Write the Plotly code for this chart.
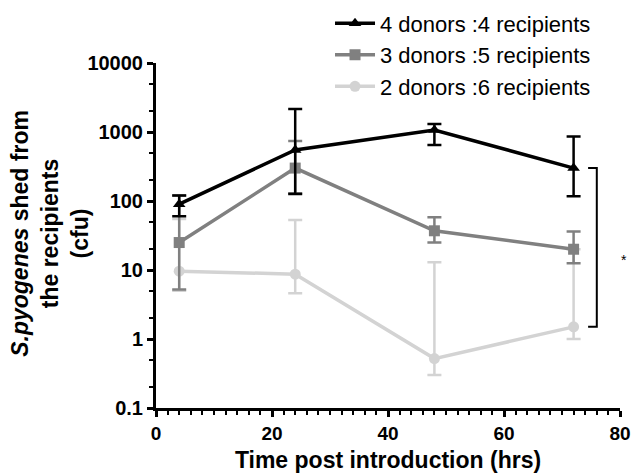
import plotly.graph_objects as go

hours = [4, 24, 48, 72]

names = ["4 donors :4 recipients", "3 donors :5 recipients", "2 donors :6 recipients"]
colors = ["#000000", "#808080", "#d3d3d3"]
symbols = ["triangle-up", "square", "circle"]

mean_4d4r = [90, 550, 1070, 300]
upper_4d4r = [120, 2150, 1310, 860]
lower_4d4r = [60, 126, 650, 117]

mean_3d5r = [25, 300, 37, 20]
upper_3d5r = [120, 740, 58, 36]
lower_3d5r = [5.2, 130, 25, 12.5]

mean_2d6r = [9.6, 8.7, 0.52, 1.5]
upper_2d6r = [55, 53, 13, 20]
lower_2d6r = [5, 4.6, 0.3, 1.0]

bracket_x = [74.5, 76, 76, 74.5]
bracket_y = [300, 300, 1.5, 1.5]

series = [
    (mean_4d4r, upper_4d4r, lower_4d4r),
    (mean_3d5r, upper_3d5r, lower_3d5r),
    (mean_2d6r, upper_2d6r, lower_2d6r),
]

fig = go.Figure()

# draw light series first so darker ones are on top
for i in [2, 1, 0]:
    m, up, lo = series[i]
    fig.add_trace(go.Scatter(
        x=hours, y=m, name=names[i], mode="lines+markers",
        legendgroup=f"g{i}", legendrank=i + 1,
        line=dict(color=colors[i], width=3.5),
        marker=dict(symbol=symbols[i], size=11, color=colors[i]),
        error_y=dict(type="data", symmetric=False,
                     array=[u - v for u, v in zip(up, m)],
                     arrayminus=[v - l for v, l in zip(m, lo)],
                     color=colors[i], thickness=2.5, width=7),
    ))

fig.add_trace(go.Scatter(
    x=bracket_x, y=bracket_y, mode="lines", showlegend=False,
    line=dict(color="black", width=2), hoverinfo="skip", cliponaxis=False,
))

fig.add_annotation(text="*", xref="paper", yref="paper", x=1.0086, y=0.43,
                   xanchor="center", borderpad=0,
                   showarrow=False, font=dict(size=14, color="black", family="Arial"))

tick_font_y = dict(family="Arial", size=20, color="black", weight="bold")
tick_font_x = dict(family="Arial", size=19, color="black", weight="bold")
title_font = dict(family="Arial", size=23, color="black", weight="bold")

fig.add_annotation(text="<i>S.pyogenes</i> shed from<br>the recipients<br>(cfu)",
                   xref="paper", yref="paper", x=-0.2284, y=0.505,
                   xanchor="center", yanchor="middle", textangle=-90,
                   showarrow=False, font=title_font)

fig.update_layout(
    width=631, height=474,
    margin=dict(l=156, r=11, t=63, b=66, autoexpand=False),
    paper_bgcolor="white", plot_bgcolor="white",
    font=dict(family="Arial", color="black"),
    showlegend=True,
    legend=dict(xref="container", yref="container", x=0.523, y=0.995,
                xanchor="left", yanchor="top",
                font=dict(family="Arial", size=22, color="black"),
                tracegroupgap=0, itemwidth=40, bgcolor="rgba(0,0,0,0)"),
    xaxis=dict(range=[0, 80], tick0=0, dtick=20, automargin=False,
               showline=True, linecolor="black", linewidth=3,
               ticks="outside", ticklen=6, tickwidth=3, tickcolor="black",
               tickfont=tick_font_x, showgrid=False, zeroline=False,
               minor=dict(dtick=2, ticks="outside", ticklen=4, tickwidth=2, tickcolor="black", showgrid=False),
               title=dict(text="Time post introduction (hrs)", font=title_font, standoff=10)),
    yaxis=dict(type="log", range=[-1, 4], automargin=False,
               tickvals=[0.1, 1, 10, 100, 1000, 10000],
               ticktext=["0.1", "1", "10", "100", "1000", "10000"],
               showline=True, linecolor="black", linewidth=3,
               ticks="outside", ticklen=6, tickwidth=3, tickcolor="black",
               tickfont=tick_font_y, showgrid=False, zeroline=False,
               minor=dict(ticks="outside", ticklen=4, tickwidth=2, tickcolor="black", showgrid=False)),
)

fig.write_html("out.html", config={"displayModeBar": False},
               post_script="document.body.style.margin='0';")
